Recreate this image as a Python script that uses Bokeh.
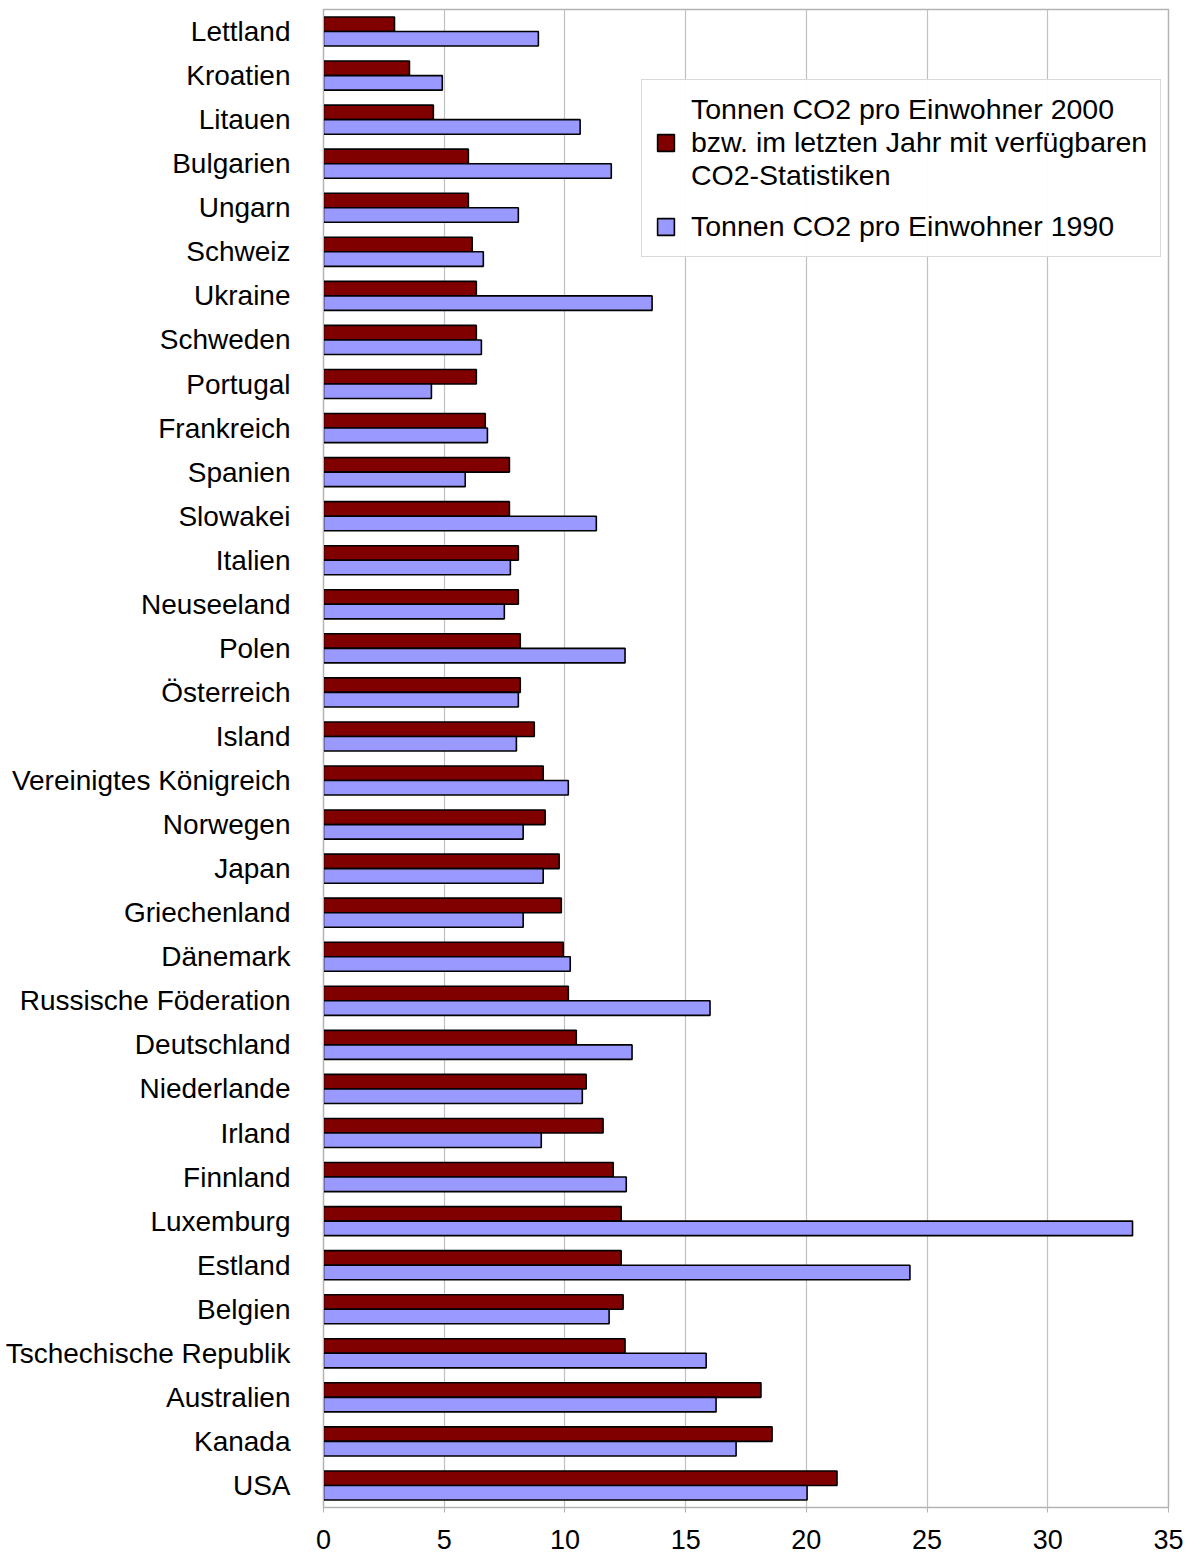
from bokeh.plotting import figure
from bokeh.models import FactorRange, Range1d, ColumnDataSource, Legend, LegendItem, FixedTicker
from bokeh.transform import dodge
from bokeh.embed import file_html
from bokeh.resources import INLINE

countries = ["Lettland", "Kroatien", "Litauen", "Bulgarien", "Ungarn", "Schweiz", "Ukraine",
             "Schweden", "Portugal", "Frankreich", "Spanien", "Slowakei", "Italien", "Neuseeland",
             "Polen", "Österreich", "Island", "Vereinigtes Königreich", "Norwegen", "Japan",
             "Griechenland", "Dänemark", "Russische Föderation", "Deutschland", "Niederlande",
             "Irland", "Finnland", "Luxemburg", "Estland", "Belgien", "Tschechische Republik",
             "Australien", "Kanada", "USA"]
co2_2000 = [2.94, 3.56, 4.55, 6.0, 6.0, 6.16, 6.33, 6.33, 6.33, 6.7, 7.7, 7.7, 8.07, 8.07,
            8.15, 8.15, 8.73, 9.1, 9.18, 9.76, 9.85, 9.93, 10.14, 10.47, 10.88, 11.58, 12.0,
            12.33, 12.33, 12.41, 12.49, 18.12, 18.58, 21.27]
co2_1990 = [8.9, 4.92, 10.63, 11.92, 8.07, 6.62, 13.61, 6.54, 4.47, 6.79, 5.87, 11.3, 7.74, 7.49,
            12.49, 8.07, 7.99, 10.14, 8.27, 9.1, 8.27, 10.22, 16.01, 12.78, 10.72, 9.02, 12.54,
            33.51, 24.29, 11.83, 15.85, 16.26, 17.09, 20.03]
x_ticks = [0, 5, 10, 15, 20, 25, 30, 35]
label_2000 = "Tonnen CO2 pro Einwohner 2000\nbzw. im letzten Jahr mit verfügbaren\nCO2-Statistiken"
label_1990 = "Tonnen CO2 pro Einwohner 1990"

src = ColumnDataSource(dict(country=countries, v2000=co2_2000, v1990=co2_1990))

p = figure(width=1185, height=1558, output_backend="svg", toolbar_location=None,
           y_range=FactorRange(factors=list(reversed(countries))),
           x_range=Range1d(0, 35),
           min_border_left=323, min_border_top=9, min_border_right=17, min_border_bottom=51)

r1 = p.hbar(y=dodge("country", 0.165, range=p.y_range), left=0, right="v2000", height=0.33,
            source=src, fill_color="#800000", line_color="#000000", line_width=1.6)
r2 = p.hbar(y=dodge("country", -0.165, range=p.y_range), left=0, right="v1990", height=0.33,
            source=src, fill_color="#9999ff", line_color="#000000", line_width=1.6)

p.outline_line_color = "#b3b3b3"
p.outline_line_width = 1.5
p.ygrid.grid_line_color = None
p.xgrid.grid_line_color = "#c0c0c0"
p.xgrid.grid_line_width = 1.2
p.xaxis.ticker = FixedTicker(ticks=x_ticks)
p.xaxis.minor_tick_line_color = None
p.xaxis.axis_line_color = "#b3b3b3"
p.xaxis.major_tick_line_color = "#b3b3b3"
p.xaxis.major_tick_out = 5
p.xaxis.major_tick_in = 0
p.xaxis.major_label_standoff = 17
p.xaxis.major_label_text_font = "Liberation Sans"
p.xaxis.major_label_text_font_size = "27px"
p.xaxis.major_label_text_color = "#000000"

p.yaxis.axis_line_color = "#b3b3b3"
p.yaxis.major_tick_line_color = None
p.yaxis.major_label_standoff = 27
p.yaxis.major_label_text_font = "Liberation Sans"
p.yaxis.major_label_text_font_size = "28px"
p.yaxis.major_label_text_color = "#000000"

legend = Legend(items=[LegendItem(label=label_2000, renderers=[r1]),
                       LegendItem(label=label_1990, renderers=[r2])],
                location=(318, 1250))
legend.label_text_font = "Liberation Sans"
legend.label_text_font_size = "28.5px"
legend.label_text_color = "#000000"
legend.label_text_line_height = 1.15
legend.glyph_width = 21
legend.glyph_height = 21
legend.border_line_color = "#b3b3b3"
legend.border_line_width = 1.5
legend.padding = 13
legend.spacing = 18
legend.margin = 0
legend.label_standoff = 15
p.add_layout(legend, "center")

open("out.html", "w").write(file_html(p, INLINE))
